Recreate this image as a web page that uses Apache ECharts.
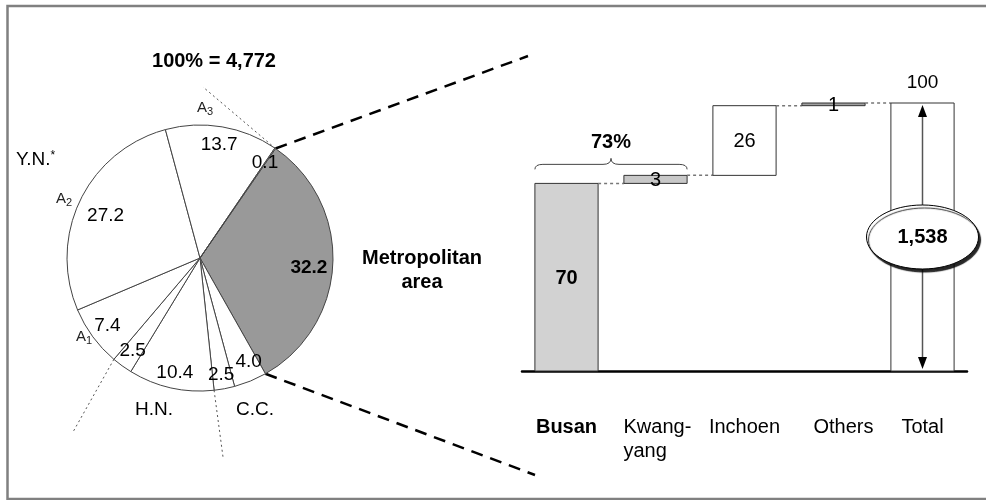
<!DOCTYPE html>
<html>
<head>
<meta charset="utf-8">
<script src="https://cdn.jsdelivr.net/npm/echarts@6/dist/echarts.min.js"></script>
<style>
  html, body { margin: 0; padding: 0; background: #fff; }
  #chart { width: 986px; height: 500px; }
</style>
</head>
<body>
<div id="chart"></div>
<script>
// pie: shares of the 4,772 total, clockwise starting at the metropolitan slice
const pieTotal = 4772
const pieNames = ['Metropolitan', 'C.C. a', 'C.C. b', 'H.N. a', 'H.N. b', 'A1', 'A2', 'A3', 'A3 b']
const pieValues = [32.2, 4.0, 2.5, 10.4, 2.5, 7.4, 27.2, 13.7, 0.1]

// waterfall for the metropolitan area
const barCategories = ['Busan', 'Kwang-\nyang', 'Inchoen', 'Others', 'Total']
const barValues = [70, 3, 26, 1, 100]
const metroTotal = 1538
const bracePercent = 73

const FONT = '"Liberation Sans", Arial, sans-serif'

// bases of the floating bars (total starts again from zero)
const barBases = []
let running = 0
barValues.forEach((v, i) => {
  if (i === barValues.length - 1) {
    barBases.push(0)
  } else {
    barBases.push(running)
    running += v
  }
})

const barFill = ['#d2d2d2', '#c8c8c8', '#ffffff', '#a0a0a0', '#ffffff']

// pie geometry
const pieCenter = [200, 258]
const pieR = 133
const pieStart = 55.4

// point on the rim after k slices
const rimPoint = (k) => {
  const total = pieValues.reduce((a, b) => a + b, 0)
  const sum = pieValues.slice(0, k).reduce((a, b) => a + b, 0)
  const ang = (pieStart - (sum / total) * 360) * Math.PI / 180
  return [pieCenter[0] + pieR * Math.cos(ang), pieCenter[1] - pieR * Math.sin(ang)]
}

const renderBar = (params, api) => {
  const i = api.value(0)
  const lo = api.coord([i, api.value(1)])
  const hi = api.coord([i, api.value(2)])
  const bw = api.size([1, 0])[0] * 0.71
  const x0 = lo[0] - bw / 2
  const children = [{
    type: 'rect',
    shape: { x: x0, y: hi[1], width: bw, height: lo[1] - hi[1] },
    style: { fill: barFill[i], stroke: '#333', lineWidth: 1 }
  }]
  // dotted connector to the next bar
  if (i < barValues.length - 1) {
    const nx = api.coord([i + 1, 0])[0] - bw / 2
    children.push({
      type: 'line',
      shape: { x1: x0 + bw, y1: hi[1], x2: nx, y2: hi[1] },
      style: { stroke: '#777', lineWidth: 1.5, lineDash: [3, 3] }
    })
  }
  const isTotal = i === barValues.length - 1
  if (isTotal) {
    const x = lo[0]
    const top = hi[1] + 2
    const bot = lo[1] - 2
    const mid = (hi[1] + lo[1]) / 2
    children.push(
      { type: 'line', shape: { x1: x, y1: top + 8, x2: x, y2: bot - 8 }, style: { stroke: '#555', lineWidth: 1.5 } },
      { type: 'polygon', shape: { points: [[x, top], [x - 4.5, top + 12], [x + 4.5, top + 12]] }, style: { fill: '#000' } },
      { type: 'polygon', shape: { points: [[x, bot], [x - 4.5, bot - 12], [x + 4.5, bot - 12]] }, style: { fill: '#000' } },
      {
        type: 'ellipse',
        shape: { cx: x, cy: mid, rx: 56, ry: 32 },
        style: { fill: '#fff', stroke: '#000', lineWidth: 1, shadowColor: 'rgba(0,0,0,0.85)', shadowOffsetX: 2, shadowOffsetY: 3, shadowBlur: 1 }
      },
      {
        type: 'text', x: x, y: mid,
        style: { text: metroTotal.toLocaleString('en-US'), fontSize: 20, fontWeight: 'bold', fontFamily: FONT, fill: '#000', align: 'center', verticalAlign: 'middle' }
      },
      {
        type: 'text', x: x, y: hi[1] - 20,
        style: { text: String(api.value(2) - api.value(1)), fontSize: 19, fontFamily: FONT, fill: '#000', align: 'center', verticalAlign: 'middle' }
      }
    )
  } else {
    children.push({
      type: 'text', x: lo[0], y: (hi[1] + lo[1]) / 2 + 1,
      style: {
        text: String(api.value(2) - api.value(1)),
        fontSize: 20, fontWeight: i === 0 ? 'bold' : 'normal', fontFamily: FONT,
        fill: '#000', align: 'center', verticalAlign: 'middle'
      }
    })
  }
  // brace over Busan + Kwangyang
  if (i === 0) {
    const xr = api.coord([1, 0])[0] + bw / 2
    const y = api.coord([0, bracePercent])[1] - 11
    const xm = (x0 + xr) / 2
    children.push({
      type: 'path',
      shape: {
        pathData: `M${x0},${y + 5} Q${x0},${y} ${x0 + 8},${y} L${xm - 8},${y} Q${xm},${y} ${xm},${y - 6} Q${xm},${y} ${xm + 8},${y} L${xr - 8},${y} Q${xr},${y} ${xr},${y + 5}`
      },
      style: { fill: 'none', stroke: '#444', lineWidth: 1 }
    }, {
      type: 'text', x: xm, y: y - 22,
      style: { text: bracePercent + '%', fontSize: 20, fontWeight: 'bold', fontFamily: FONT, fill: '#000', align: 'center', verticalAlign: 'middle' }
    })
  }
  return { type: 'group', children }
}

const metroStart = rimPoint(0)
const metroEnd = rimPoint(1)
const cutHN = rimPoint(3)
const cutYN = rimPoint(5)

const sub = (letter, n) => `{a|${letter}}{s|${n}}`
const subRich = {
  a: { fontSize: 15, fontFamily: FONT, fill: '#222' },
  s: { fontSize: 11, fontFamily: FONT, fill: '#222', padding: [8, 0, 0, 0] }
}

// small nudges so the labels sit where the original has them
const pieLabelTweak = {
  0: { fontWeight: 'bold', offset: [-6, 5] },
  1: { offset: [5, -3] },
  2: { offset: [0, 4] },
  3: { offset: [0, 3] },
  6: { offset: [9, 8] }
}

const chart = echarts.init(document.getElementById('chart'))
chart.setOption({
  animation: false,
  backgroundColor: '#fff',
  textStyle: { fontFamily: FONT },
  grid: { left: 522, right: 19, top: 103, bottom: 129 },
  xAxis: {
    type: 'category',
    data: barCategories,
    axisLine: { lineStyle: { color: '#000', width: 2.5 } },
    axisTick: { show: false },
    axisLabel: {
      margin: 44,
      interval: 0,
      color: '#000',
      fontSize: 20,
      lineHeight: 24,
      fontFamily: FONT,
      formatter: (v, i) => {
        if (i === 0) return `{b|${v}}`
        if (v.indexOf('\n') >= 0) return v.split('\n').map((t) => `{l|${t}}`).join('\n')
        if (v === 'Others') return `{o|${v}}`
        return v
      },
      rich: {
        b: { fontWeight: 'bold', fontSize: 20, fontFamily: FONT, color: '#000' },
        l: { width: 64, align: 'left', fontSize: 20, fontFamily: FONT, color: '#000', lineHeight: 24 },
        o: { padding: [0, 0, 0, 20], fontSize: 20, fontFamily: FONT, color: '#000' }
      }
    }
  },
  yAxis: { type: 'value', min: 0, max: 100, show: false },
  series: [
    {
      type: 'pie',
      center: pieCenter,
      radius: pieR,
      startAngle: pieStart,
      clockwise: true,
      silent: true,
      label: { show: false },
      labelLine: { show: false },
      emphasis: { disabled: true },
      itemStyle: { borderColor: '#444', borderWidth: 1 },
      data: pieValues.map((v, i) => ({
        name: pieNames[i], value: v,
        itemStyle: { color: i === 0 ? '#999999' : '#ffffff' }
      }))
    },
    {
      // same slices, transparent, only to place the value labels near the rim
      type: 'pie',
      center: pieCenter,
      radius: [90, 134],
      startAngle: pieStart,
      clockwise: true,
      silent: true,
      avoidLabelOverlap: false,
      labelLayout: { hideOverlap: false },
      emphasis: { disabled: true },
      itemStyle: { color: 'rgba(0,0,0,0)', borderWidth: 0 },
      labelLine: { show: false },
      label: {
        show: true,
        position: 'inside',
        color: '#000',
        fontSize: 19,
        fontFamily: FONT,
        formatter: (p) => p.value.toFixed(1)
      },
      data: pieValues.map((v, i) => ({
        name: pieNames[i], value: v,
        label: pieLabelTweak[i] || {}
      }))
    },
    {
      type: 'custom',
      renderItem: renderBar,
      data: barValues.map((v, i) => [i, barBases[i], barBases[i] + v]),
      z: 3
    }
  ],
  graphic: [
    // frame
    { type: 'polyline', shape: { points: [[1000, 6], [7.5, 6], [7.5, 499], [1000, 499]] }, style: { fill: 'none', stroke: '#808080', lineWidth: 2.5 }, silent: true },
    // zoom lines from the metropolitan slice to the bar chart
    { type: 'line', shape: { x1: metroStart[0], y1: metroStart[1], x2: 528, y2: 56 }, style: { stroke: '#000', lineWidth: 2.5, lineDash: [12, 8] }, silent: true },
    { type: 'line', shape: { x1: metroEnd[0], y1: metroEnd[1], x2: 535, y2: 475 }, style: { stroke: '#000', lineWidth: 2.5, lineDash: [12, 8] }, silent: true },
    // region dividers
    { type: 'line', shape: { x1: metroStart[0], y1: metroStart[1], x2: 203, y2: 87 }, style: { stroke: '#555', lineWidth: 1, lineDash: [2, 3] }, silent: true },
    { type: 'line', shape: { x1: cutYN[0], y1: cutYN[1], x2: 73, y2: 432 }, style: { stroke: '#555', lineWidth: 1, lineDash: [2, 3] }, silent: true },
    { type: 'line', shape: { x1: cutHN[0], y1: cutHN[1], x2: 223, y2: 457 }, style: { stroke: '#555', lineWidth: 1, lineDash: [2, 3] }, silent: true },
    // texts
    { type: 'text', x: 214, y: 61, style: { text: '100% = ' + pieTotal.toLocaleString('en-US'), fontSize: 20, fontWeight: 'bold', fontFamily: FONT, fill: '#000', align: 'center', verticalAlign: 'middle' }, silent: true },
    { type: 'text', x: 422, y: 270, style: { text: 'Metropolitan\narea', fontSize: 20, lineHeight: 24, fontWeight: 'bold', fontFamily: FONT, fill: '#000', align: 'center', verticalAlign: 'middle' }, silent: true },
    { type: 'text', x: 16, y: 160, style: { text: '{y|Y.N.}{p|*}', rich: { y: { fontSize: 19, fontFamily: FONT, fill: '#000' }, p: { fontSize: 12, fontFamily: FONT, fill: '#000', padding: [0, 0, 8, 0] } }, verticalAlign: 'middle' }, silent: true },
    { type: 'text', x: 197, y: 108, style: { text: sub('A', 3), rich: subRich, verticalAlign: 'middle' }, silent: true },
    { type: 'text', x: 56, y: 199, style: { text: sub('A', 2), rich: subRich, verticalAlign: 'middle' }, silent: true },
    { type: 'text', x: 76, y: 337, style: { text: sub('A', 1), rich: subRich, verticalAlign: 'middle' }, silent: true },
    { type: 'text', x: 154, y: 410, style: { text: 'H.N.', fontSize: 19, fontFamily: FONT, fill: '#000', align: 'center', verticalAlign: 'middle' }, silent: true },
    { type: 'text', x: 255, y: 410, style: { text: 'C.C.', fontSize: 19, fontFamily: FONT, fill: '#000', align: 'center', verticalAlign: 'middle' }, silent: true }
  ]
})
</script>
</body>
</html>
